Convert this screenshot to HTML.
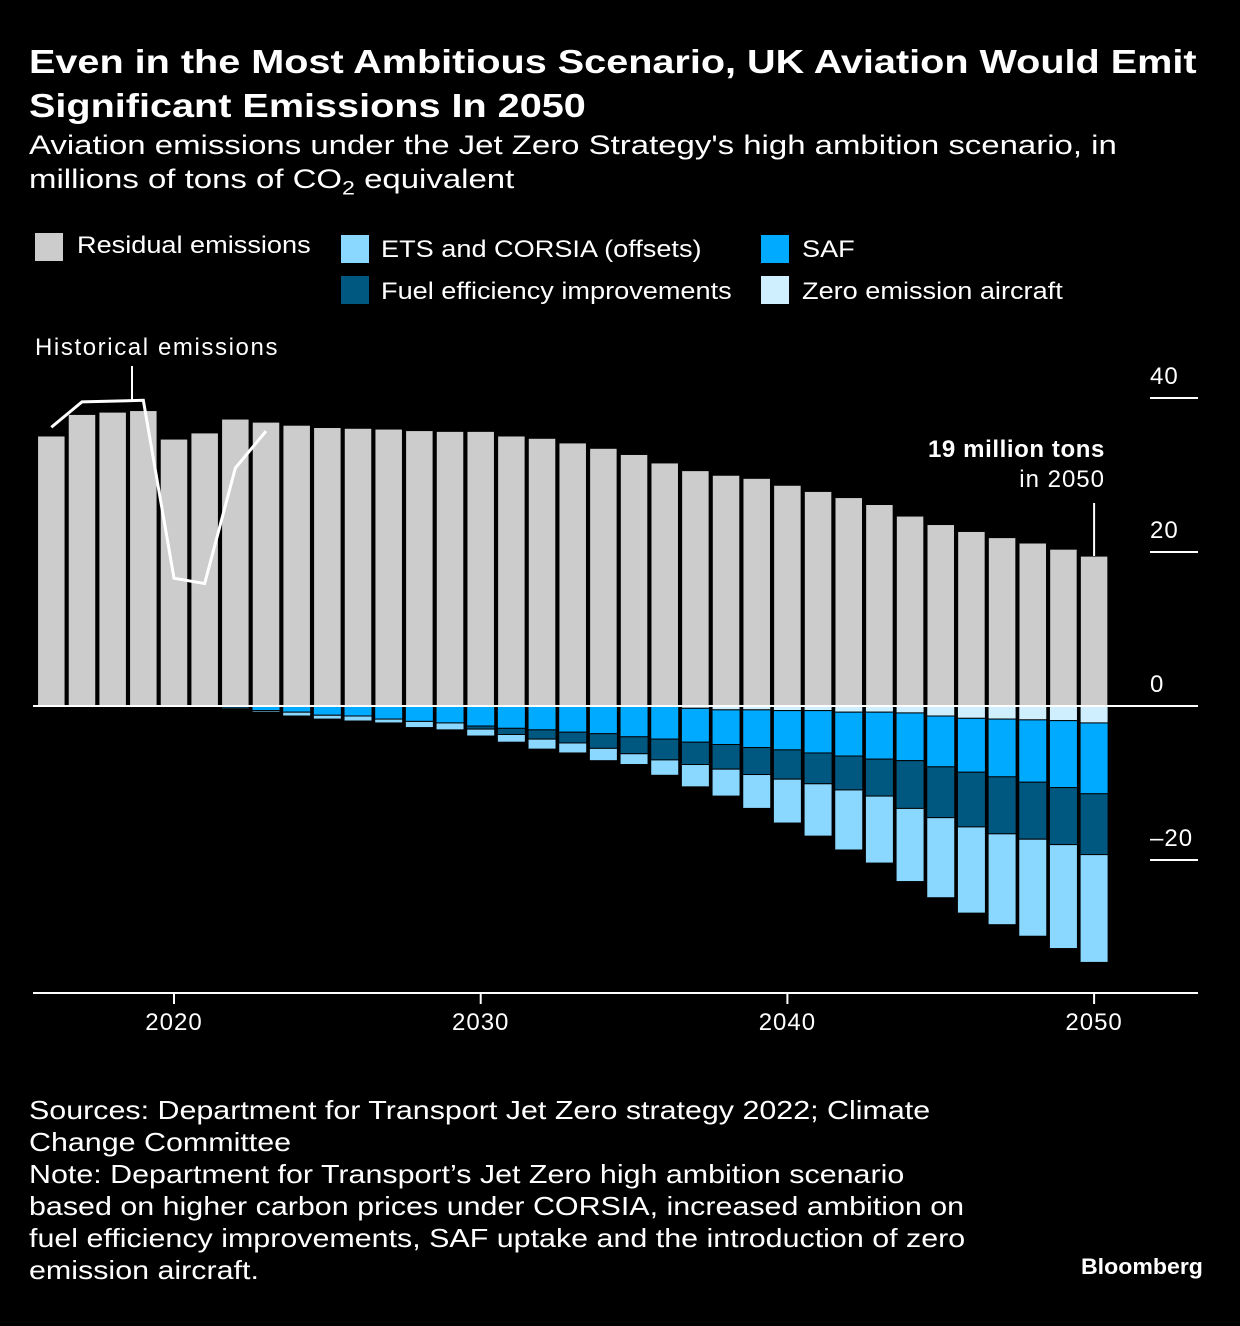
<!DOCTYPE html>
<html><head><meta charset="utf-8"><style>
body{margin:0;background:#000;width:1240px;height:1326px;overflow:hidden;font-family:"Liberation Sans",sans-serif;color:#fff}
.t{position:absolute;white-space:nowrap;transform-origin:0 0}
</style></head><body>
<div class="t" style="left:29px;top:40px;font-size:33px;font-weight:bold;line-height:44px;transform:scaleX(1.2)">Even in the Most Ambitious Scenario, UK Aviation Would Emit<br>Significant Emissions In 2050</div>
<div class="t" style="left:29px;top:128px;font-size:27px;line-height:34px;transform:scaleX(1.22)">Aviation emissions under the Jet Zero Strategy's high ambition scenario, in<br>millions of tons of CO<sub style="font-size:19px">2</sub> equivalent</div>
<div>
<div><div class="t" style="left:35px;top:233px;width:28px;height:28px;background:#cccccc"></div><div class="t" style="left:77px;top:232px;font-size:24px;transform:scaleX(1.13)">Residual emissions</div></div>
<div><div class="t" style="left:341px;top:235px;width:28px;height:28px;background:#8ad8ff"></div><div class="t" style="left:381px;top:236px;font-size:24px;transform:scaleX(1.13)">ETS and CORSIA (offsets)</div></div>
<div><div class="t" style="left:761px;top:235px;width:28px;height:28px;background:#00aaff"></div><div class="t" style="left:802px;top:236px;font-size:24px;transform:scaleX(1.13)">SAF</div></div>
<div><div class="t" style="left:341px;top:276px;width:28px;height:28px;background:#005880"></div><div class="t" style="left:381px;top:278px;font-size:24px;transform:scaleX(1.13)">Fuel efficiency improvements</div></div>
<div><div class="t" style="left:761px;top:276px;width:28px;height:28px;background:#cfefff"></div><div class="t" style="left:802px;top:278px;font-size:24px;transform:scaleX(1.13)">Zero emission aircraft</div></div>
</div>
<svg id="c" width="1240" height="1326" style="position:absolute;left:0;top:0" font-family="Liberation Sans, sans-serif"></svg>
<div class="t" style="left:29px;top:1094px;font-size:26px;line-height:32px;transform:scaleX(1.17)">Sources: Department for Transport Jet Zero strategy 2022; Climate<br>Change Committee<br>Note: Department for Transport’s Jet Zero high ambition scenario<br>based on higher carbon prices under CORSIA, increased ambition on<br>fuel efficiency improvements, SAF uptake and the introduction of zero<br>emission aircraft.</div>
<div class="t" style="left:1081px;top:1254px;font-size:22px;font-weight:bold;transform:scaleX(1.05)">Bloomberg</div>
<script>
const years=[2016,2017,2018,2019,2020,2021,2022,2023,2024,2025,2026,2027,2028,2029,2030,2031,2032,2033,2034,2035,2036,2037,2038,2039,2040,2041,2042,2043,2044,2045,2046,2047,2048,2049,2050];
const residual=[35.1,37.9,38.2,38.4,34.7,35.5,37.3,36.9,36.5,36.2,36.1,36.0,35.8,35.7,35.7,35.1,34.8,34.2,33.5,32.7,31.6,30.6,30.0,29.6,28.7,27.9,27.1,26.2,24.7,23.6,22.7,21.9,21.2,20.4,19.5];
const zeroEm=[0,0,0,0,0,0,0,0,0,0,0,0,0,0,0,0,0,0,0,0,0,0.3,0.5,0.5,0.6,0.6,0.8,0.8,0.9,1.3,1.6,1.7,1.8,1.9,2.2];
const saf=[0,0,0,0,0.1,0.15,0.25,0.6,0.8,1.2,1.3,1.7,2.0,2.2,2.6,2.9,3.1,3.4,3.6,4.0,4.3,4.4,4.5,4.9,5.1,5.5,5.7,6.1,6.2,6.6,7.0,7.5,8.1,8.7,9.2];
const fuel=[0,0,0,0,0,0,0,0,0,0,0,0,0,0,0.4,0.8,1.2,1.4,1.9,2.2,2.7,2.9,3.2,3.5,3.8,4.0,4.4,4.8,6.2,6.6,7.1,7.4,7.4,7.4,7.9];
const ets=[0,0,0,0,0.1,0.1,0.15,0.2,0.5,0.5,0.65,0.5,0.8,0.9,0.9,1.0,1.3,1.3,1.6,1.4,2.0,2.9,3.5,4.4,5.7,6.8,7.8,8.7,9.5,10.4,11.2,11.8,12.6,13.5,14.0];
const histYears=[2016,2017,2018,2019,2020,2021,2022,2023];
const histVals=[36.2,39.5,39.6,39.7,16.6,15.9,30.9,35.7];
const yTicks=[40,20,0,-20];
const yTickLabels=["40","20","0","–20"];
const xTicks=[2020,2030,2040,2050];

const svg=document.getElementById('c');const NS='http://www.w3.org/2000/svg';
const x=v=>174+(v-2020)*30.67;
const y=v=>706-v*7.7;
function mk(t,a){const e=document.createElementNS(NS,t);for(const k in a)e.setAttribute(k,a[k]);svg.appendChild(e);return e;}
const bw=28;
years.forEach((yr,i)=>{
  const cx=x(yr);
  let r=mk('rect',{x:cx-bw/2,y:y(residual[i]),width:bw,height:y(0)-y(residual[i]),fill:'#cccccc',stroke:'#000','stroke-width':1.5});
  
  
  let base=0;
  [[zeroEm,'#cfefff','zero'],[saf,'#00aaff','saf'],[fuel,'#005880','fuel'],[ets,'#8ad8ff','ets']].forEach(([arr,col,nm])=>{
    const v=arr[i];if(v<=0)return;
    const e=mk('rect',{x:cx-bw/2,y:y(-base),width:bw,height:y(-(base+v))-y(-base),fill:col,stroke:'#000','stroke-width':1});
    
    
    base+=v;
  });
});
yTicks.forEach((t,i)=>{
  const l=mk('line',{x1:t===0?33:1150,x2:1198,y1:y(t),y2:y(t),stroke:'#fff','stroke-width':2});
  
  
  const tx=mk('text',{x:1150,y:y(t)-14,fill:'#fff','font-size':24,'letter-spacing':1});
  tx.textContent=yTickLabels[i];
  
  
});
const ax=mk('line',{x1:33,x2:1198,y1:993,y2:993,stroke:'#fff','stroke-width':2});


xTicks.forEach(t=>{
  const l=mk('line',{x1:x(t),x2:x(t),y1:993,y2:1004,stroke:'#fff','stroke-width':2});
  
  
  const tx=mk('text',{x:x(t),y:1030,fill:'#fff','font-size':24,'letter-spacing':1,'text-anchor':'middle'});
  tx.textContent=t;
  
  
});
const pts=histYears.map((yr,i)=>x(yr)+','+y(histVals[i])).join(' ');
const hl=mk('polyline',{points:pts,fill:'none',stroke:'#fff','stroke-width':3});


const al=mk('line',{x1:132,x2:132,y1:366,y2:402,stroke:'#fff','stroke-width':2});


const at=mk('text',{x:35,y:355,fill:'#fff','font-size':24,'letter-spacing':1.6});
at.textContent='Historical emissions';


const a2=mk('line',{x1:x(2050),x2:x(2050),y1:503,y2:556,stroke:'#fff','stroke-width':2});


const b1=mk('text',{x:1105,y:457,fill:'#fff','font-size':24,'font-weight':'bold','text-anchor':'end','letter-spacing':0.6});
b1.textContent='19 million tons';


const b2=mk('text',{x:1105,y:487,fill:'#fff','font-size':24,'text-anchor':'end','letter-spacing':1});
b2.textContent='in 2050';


</script>
</body></html>
